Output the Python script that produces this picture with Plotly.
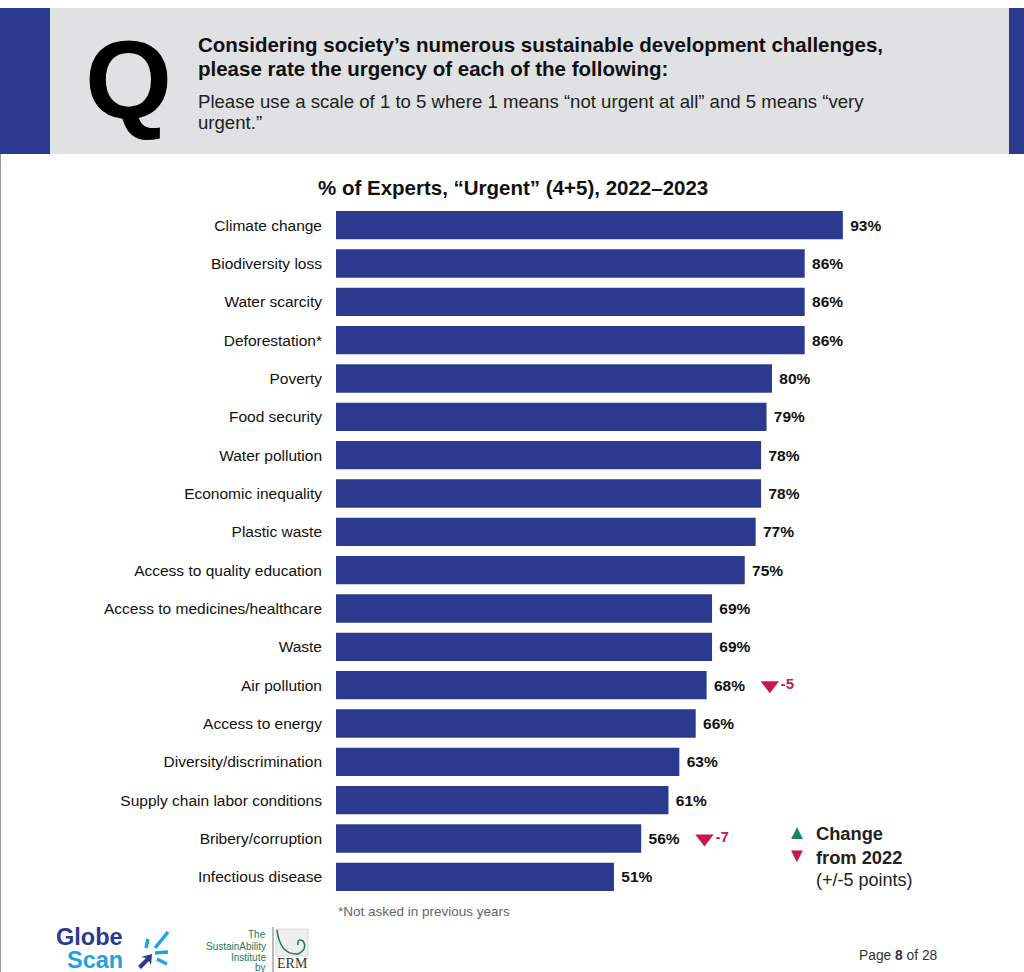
import plotly.graph_objects as go

categories = ["Climate change", "Biodiversity loss", "Water scarcity", "Deforestation*",
              "Poverty", "Food security", "Water pollution", "Economic inequality",
              "Plastic waste", "Access to quality education", "Access to medicines/healthcare",
              "Waste", "Air pollution", "Access to energy", "Diversity/discrimination",
              "Supply chain labor conditions", "Bribery/corruption", "Infectious disease"]
values = [93, 86, 86, 86, 80, 79, 78, 78, 77, 75, 69, 69, 68, 66, 63, 61, 56, 51]
change_from_2022 = [None, None, None, None, None, None, None, None, None, None, None,
                    None, -5, None, None, None, -7, None]

BAR = "#2b3a8e"
RED = "#c8174f"
GREEN = "#18826a"
FONT = "Liberation Sans"

W, H = 1024, 972
L, R, T, B = 336, 881, 206, 896


def px(x):
    return (x - L) / (R - L)


def py(y):
    return (B - y) / (B - T)


fig = go.Figure()
fig.add_trace(go.Bar(
    y=categories, x=values, orientation="h",
    marker=dict(color=BAR, line=dict(width=0)),
    text=[f" {v}%" for v in values], textposition="outside",
    textfont=dict(family=FONT, size=15.5, color="#111", weight="bold"),
    cliponaxis=False, hoverinfo="skip", showlegend=False,
))

cx, cy, ct = [], [], []
for c, v, d in zip(categories, values, change_from_2022):
    if d is not None:
        cx.append(v + 11.6)
        cy.append(c)
        ct.append(f"{d}")
fig.add_trace(go.Scatter(
    x=cx, y=cy, mode="markers+text", text=ct, textposition="middle right",
    marker=dict(symbol="triangle-down", size=16, color=RED),
    textfont=dict(family=FONT, size=15, color=RED, weight="bold"),
    cliponaxis=False, hoverinfo="skip", showlegend=False,
))

shapes = []
# header band
shapes.append(dict(type="rect", xref="paper", yref="paper", x0=px(0), x1=px(W), y0=py(154), y1=py(8),
                   fillcolor="#dfe1e3", line=dict(width=0), layer="below"))
shapes.append(dict(type="rect", xref="paper", yref="paper", x0=px(0), x1=px(50), y0=py(154), y1=py(8),
                   fillcolor=BAR, line=dict(width=0), layer="below"))
shapes.append(dict(type="rect", xref="paper", yref="paper", x0=px(1009), x1=px(W), y0=py(154), y1=py(8),
                   fillcolor=BAR, line=dict(width=0), layer="below"))
# page left border
shapes.append(dict(type="line", xref="paper", yref="paper", x0=px(0.5), x1=px(0.5), y0=py(154), y1=py(H),
                   line=dict(color="#999", width=1)))
# GlobeScan burst
for (x0, y0, x1, y1) in [(168, 932, 155, 948), (148, 939, 146, 948),
                         (155, 953, 168, 952), (157, 959, 167, 964)]:
    shapes.append(dict(type="line", xref="paper", yref="paper", x0=px(x0), y0=py(y0), x1=px(x1), y1=py(y1),
                       line=dict(color="#1fa3dc", width=3.5)))
shapes.append(dict(type="path", xref="paper", yref="paper",
                   path=f"M {px(138)},{py(966)} L {px(146)},{py(958)} L {px(141)},{py(957)} L {px(152)},{py(954)} "
                        f"L {px(151)},{py(965)} L {px(149)},{py(961)} L {px(141)},{py(969)} Z",
                   fillcolor="#2b3a8e", line=dict(width=0)))
# ERM logo box
shapes.append(dict(type="line", xref="paper", yref="paper", x0=px(273), x1=px(273), y0=py(927), y1=py(972),
                   line=dict(color="#777", width=1)))
shapes.append(dict(type="rect", xref="paper", yref="paper", x0=px(276), x1=px(308), y0=py(956), y1=py(929),
                   fillcolor="#eeeeee", line=dict(color="#bbb", width=0.5)))
shapes.append(dict(type="path", xref="paper", yref="paper",
                   path=f"M {px(277)},{py(930)} Q {px(280)},{py(955)} {px(298)},{py(954)} Q {px(308)},{py(949)} {px(303)},{py(941)} Q {px(297)},{py(938)} {px(298)},{py(945)}",
                   line=dict(color="#1d7a5c", width=1.5)))

ann = []


def text(x, y, s, size, color="#111", bold=False, anchor="left", yanchor="middle", family=FONT):
    ann.append(dict(xref="paper", yref="paper", x=px(x), y=py(y), text=s, showarrow=False,
                    xanchor=anchor, yanchor=yanchor,
                    font=dict(family=family, size=size, color=color, weight="bold" if bold else "normal")))


text(128, 80, "Q", 112, color="#000", bold=True, anchor="center")
text(196, 45, "Considering society’s numerous sustainable development challenges,", 20.5, bold=True)
text(196, 68, "please rate the urgency of each of the following:", 20.5, bold=True)
text(196, 101, "Please use a scale of 1 to 5 where 1 means “not urgent at all” and 5 means “very", 18.6, color="#222")
text(196, 123, "urgent.”", 18.6, color="#222")
text(513, 188, "% of Experts, “Urgent” (4+5), 2022–2023", 20.5, bold=True, anchor="center")

# legend
text(797, 832, "▲", 20, color=GREEN, anchor="center")
text(797, 855, "▼", 20, color=RED, anchor="center")
text(814, 833, "Change", 18.3, bold=True, color="#222")
text(814, 857, "from 2022", 18.3, bold=True, color="#222")
text(814, 880, "(+/-5 points)", 18, color="#222")

text(336, 911, "*Not asked in previous years", 13.5, color="#666")
text(940, 955, "Page <b>8</b> of 28", 13.8, color="#333", anchor="right")

# logos (text approximations)
text(54, 937, "Globe", 23.5, color="#2b3a8e", bold=True)
text(65, 960, "Scan", 23.5, color="#1fa3dc", bold=True)
text(268, 935, "The", 10, color="#1d7a5c", anchor="right")
text(268, 946, "SustainAbility", 10, color="#1d7a5c", anchor="right")
text(268, 957, "Institute", 10, color="#1d7a5c", anchor="right")
text(268, 967, "by", 10, color="#1d7a5c", anchor="right")
text(292, 963, "ERM", 14, color="#333", anchor="center", family="Liberation Serif")

fig.update_layout(
    width=W, height=H,
    margin=dict(l=L, r=W - R, t=T, b=H - B, pad=0),
    paper_bgcolor="white", plot_bgcolor="white",
    bargap=0.26,
    shapes=shapes, annotations=ann,
    font=dict(family=FONT),
    xaxis=dict(range=[0, 100], visible=False, fixedrange=True),
    yaxis=dict(autorange="reversed", showgrid=False, zeroline=False, showline=False,
               ticks="", ticklabelstandoff=13, fixedrange=True,
               tickfont=dict(family=FONT, size=15.5, color="#111")),
)

fig.write_html("out.html", config={"displayModeBar": False},
               post_script="document.body.style.margin='0';document.body.style.overflow='hidden';")
